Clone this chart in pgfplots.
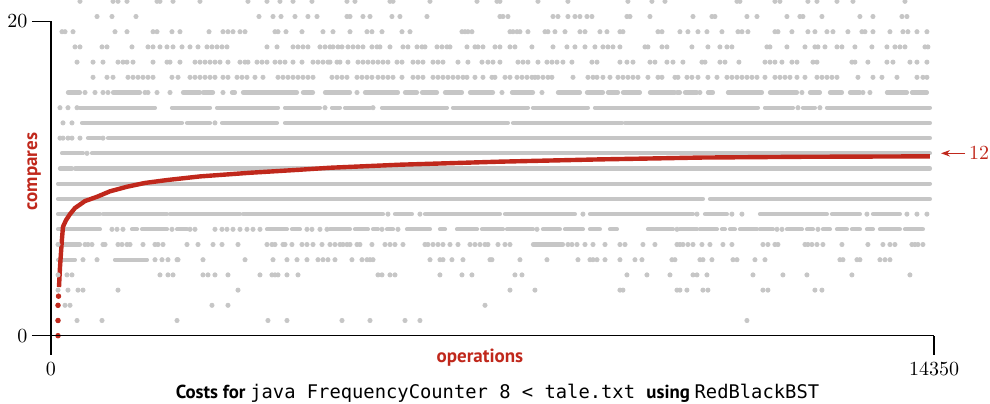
\documentclass[border=0pt]{standalone}
\usepackage{pgfplots}
\pgfplotsset{compat=1.18}
\usepackage{fontspec}
\setsansfont{PT Sans}
\setmonofont{DejaVu Sans Mono}
\usetikzlibrary{arrows.meta}
\definecolor{dotgray}{RGB}{198,198,198}
\definecolor{bookred}{RGB}{192,40,28}
\pgfplotsset{
  dots/.style={only marks, mark=*, mark size=1.05pt, color=dotgray, mark options={draw=none, fill=dotgray}},
  runs/.style={no marks, draw=dotgray, line width=2.1pt, line cap=round, unbounded coords=jump},
}
\begin{document}
\begin{tikzpicture}
\begin{axis}[
  scale only axis, width=441.5pt, height=167.85pt,
  xmin=0, xmax=14350, ymin=0, ymax=22.086,
  clip=false,
  axis x line*=bottom, axis y line*=left,
  axis line style={draw=none},
  xtick={0,14350}, xticklabels={0,14350},
  ytick={0,20.68}, yticklabels={0,20},
  tick align=outside, major tick length=9.5pt,
  tick style={black, line width=0.7pt},
  ticklabel style={font=\fontsize{10}{12}\selectfont},
  yticklabel style={xshift=1.2pt},
  scaled x ticks=false,
]
% ---- sparse rows (individual dots) ----
\addplot[dots] coordinates {(471,22)(1008,22)(1089,22)(1235,22)(1723,22)(1771,22)(1983,22)(2421,22)(3201,22)(3510,22)(3721,22)(3933,22)(4241,22)(4810,22)(4940,22)(5509,22)(5558,22)(6159,22)(6923,22)(7248,22)(7296,22)(7914,22)(8401,22)(9376,22)(9766,22)(9978,22)(11148,22)(11196,22)(11765,22)(11846,22)(12301,22)(12448,22)(12773,22)(13033,22)(13878,22)};
\addplot[dots] coordinates {(748,21)(991,21)(1381,21)(3380,21)(3608,21)(3738,21)(3965,21)(4176,21)(4323,21)(4810,21)(4859,21)(5070,21)(5184,21)(5541,21)(5671,21)(6110,21)(7296,21)(7345,21)(7426,21)(8158,21)(8239,21)(8401,21)(8515,21)(8596,21)(8710,21)(8791,21)(9360,21)(9409,21)(9734,21)(10433,21)(10741,21)(10790,21)(11310,21)(11473,21)(11960,21)(12171,21)(12220,21)(12529,21)(13146,21)(13358,21)(13829,21)(13910,21)};
\addplot[dots] coordinates {(179,20)(228,20)(358,20)(1040,20)(1235,20)(1658,20)(1723,20)(1966,20)(2096,20)(2568,20)(2795,20)(2876,20)(2958,20)(3071,20)(3153,20)(3640,20)(3689,20)(3819,20)(4079,20)(4420,20)(4583,20)(4859,20)(5135,20)(5216,20)(5379,20)(5704,20)(5834,20)(6679,20)(6728,20)(6776,20)(6841,20)(7459,20)(7508,20)(7573,20)(7621,20)(7751,20)(8028,20)(8076,20)(8190,20)(8353,20)(8596,20)(8678,20)(8921,20)(9035,20)(9246,20)(9295,20)(9864,20)(9929,20)(10221,20)(10351,20)(10514,20)(10660,20)(10904,20)(11164,20)(11229,20)(11326,20)(11765,20)(11814,20)(12041,20)(12301,20)(12415,20)(12610,20)(12708,20)(12951,20)(13179,20)(13228,20)(13358,20)(13634,20)(13845,20)(13926,20)(14073,20)(14235,20)};
\addplot[dots] coordinates {(390,19)(471,19)(829,19)(910,19)(1316,19)(1576,19)(1658,19)(1771,19)(1885,19)(1983,19)(2129,19)(2259,19)(2389,19)(2535,19)(2616,19)(2698,19)(2779,19)(2860,19)(3510,19)(3673,19)(3933,19)(4014,19)(4095,19)(4176,19)(4371,19)(4453,19)(4534,19)(4583,19)(4664,19)(4729,19)(4826,19)(4908,19)(4989,19)(5070,19)(5216,19)(5298,19)(5346,19)(5509,19)(5720,19)(5801,19)(5948,19)(6029,19)(6078,19)(6273,19)(6354,19)(6435,19)(6484,19)(6760,19)(6890,19)(6939,19)(7020,19)(7215,19)(7296,19)(7459,19)(7540,19)(7816,19)(8158,19)(8385,19)(8515,19)(8678,19)(8840,19)(8970,19)(9051,19)(9133,19)(9246,19)(9653,19)(9701,19)(9929,19)(10010,19)(10416,19)(10676,19)(10871,19)(10985,19)(11066,19)(11635,19)(11684,19)(11960,19)(12253,19)(12415,19)(12464,19)(12578,19)(12773,19)(12854,19)(13065,19)(13341,19)(13585,19)(13715,19)(13796,19)(13878,19)(14203,19)(14251,19)};
\addplot[dots] coordinates {(423,18)(683,18)(845,18)(1089,18)(1170,18)(1235,18)(1333,18)(1658,18)(1885,18)(1934,18)(2096,18)(2340,18)(2421,18)(2503,18)(2584,18)(2665,18)(2746,18)(2876,18)(3071,18)(3153,18)(3201,18)(3348,18)(3429,18)(3510,18)(3640,18)(3721,18)(3803,18)(3933,18)(4079,18)(4258,18)(4339,18)(4420,18)(4501,18)(4534,18)(4648,18)(4696,18)(4826,18)(4989,18)(5070,18)(5151,18)(5233,18)(5314,18)(5395,18)(5476,18)(5623,18)(5704,18)(5883,18)(5964,18)(6045,18)(6208,18)(6289,18)(6370,18)(6614,18)(6776,18)(7004,18)(7101,18)(7183,18)(7296,18)(7589,18)(7670,18)(7751,18)(7914,18)(8060,18)(8141,18)(8223,18)(8320,18)(8466,18)(8791,18)(8873,18)(9246,18)(9360,18)(9458,18)(9734,18)(9815,18)(10010,18)(10108,18)(10270,18)(10579,18)(10628,18)(10871,18)(10953,18)(11180,18)(11603,18)(11684,18)(11765,18)(11879,18)(12041,18)(12123,18)(12383,18)(12448,18)(13016,18)(13065,18)(13276,18)(13585,18)(13683,18)(13959,18)(14073,18)(14235,18)};
\addplot[dots] coordinates {(683,17)(910,17)(1008,17)(1251,17)(1333,17)(1414,17)(1495,17)(1576,17)(1658,17)(1966,17)(2064,17)(2259,17)(2340,17)(2421,17)(2503,17)(2584,17)(2665,17)(2795,17)(2876,17)(3023,17)(3104,17)(3185,17)(3315,17)(3445,17)(3689,17)(3770,17)(3851,17)(3933,17)(4014,17)(4095,17)(4176,17)(4258,17)(4566,17)(4648,17)(4729,17)(4810,17)(4973,17)(5054,17)(5135,17)(5216,17)(5314,17)(5395,17)(5476,17)(5558,17)(5704,17)(5883,17)(5964,17)(6045,17)(6208,17)(6289,17)(6370,17)(6451,17)(6533,17)(6614,17)(6695,17)(6760,17)(6890,17)(7020,17)(7166,17)(7215,17)(7378,17)(7459,17)(7573,17)(7654,17)(7735,17)(7816,17)(7865,17)(7914,17)(7995,17)(8076,17)(8141,17)(8483,17)(8726,17)(8808,17)(8873,17)(8970,17)(9084,17)(9214,17)(9295,17)(9376,17)(9458,17)(9539,17)(9701,17)(9864,17)(9929,17)(10140,17)(10189,17)(10335,17)(10416,17)(10514,17)(10676,17)(10823,17)(10985,17)(11066,17)(11148,17)(11229,17)(11310,17)(11391,17)(11473,17)(11603,17)(11765,17)(11846,17)(11928,17)(12009,17)(12123,17)(12253,17)(12448,17)(12529,17)(12610,17)(12691,17)(12773,17)(13114,17)(13358,17)(13504,17)(13748,17)(14073,17)(14170,17)(14235,17)};
% ---- medium / dense rows ----
\addplot[runs] coordinates {(276,16)(471,16)(0,nan)(1008,16)(1446,16)(0,nan)(2145,16)(2421,16)(0,nan)(2470,16)(2633,16)(0,nan)(2941,16)(2990,16)(0,nan)(3120,16)(3998,16)(0,nan)(4095,16)(4258,16)(0,nan)(4453,16)(4859,16)(0,nan)(5103,16)(5639,16)(0,nan)(5753,16)(5948,16)(0,nan)(6029,16)(6273,16)(0,nan)(6403,16)(6679,16)(0,nan)(6809,16)(7183,16)(0,nan)(7491,16)(7833,16)(0,nan)(8239,16)(8596,16)(0,nan)(8710,16)(8970,16)(0,nan)(9051,16)(9214,16)(0,nan)(9295,16)(9571,16)(0,nan)(9734,16)(10140,16)(0,nan)(10173,16)(10221,16)(0,nan)(10303,16)(10498,16)(0,nan)(10676,16)(10758,16)(0,nan)(11001,16)(11554,16)(0,nan)(11684,16)(12123,16)(0,nan)(12334,16)(12496,16)(0,nan)(12659,16)(12854,16)(0,nan)(12984,16)(13146,16)(0,nan)(13585,16)(13910,16)(0,nan)(13991,16)(14235,16)};
\addplot[dots] coordinates {(553,16)(715,16)(845,16)(926,16)(1528,16)(1576,16)(1723,16)(1934,16)(2795,16)(4973,16)(7329,16)(7979,16)(10546,16)(12204,16)(13195,16)(13309,16)};
\addplot[runs] coordinates {(471,15)(1690,15)(0,nan)(1966,15)(2584,15)(0,nan)(2698,15)(3689,15)(0,nan)(3803,15)(4371,15)(0,nan)(4566,15)(4696,15)(0,nan)(4778,15)(5184,15)(0,nan)(5379,15)(6435,15)(0,nan)(6533,15)(7751,15)(0,nan)(7833,15)(8726,15)(0,nan)(8840,15)(11489,15)(0,nan)(11603,15)(12058,15)(0,nan)(12220,15)(12415,15)(0,nan)(12610,15)(14284,15)};
\addplot[dots] coordinates {(146,15)(276,15)(423,15)(4453,15)(5233,15)(12139,15)(12496,15)};
\addplot[runs] coordinates {(504,14)(2129,14)(0,nan)(2210,14)(2584,14)(0,nan)(2779,14)(3673,14)(0,nan)(3803,14)(7426,14)(0,nan)(7508,14)(9279,14)(0,nan)(9328,14)(14284,14)};
\addplot[dots] coordinates {(195,14)(341,14)(2665,14)};
\addplot[runs] coordinates {(601,13)(796,13)(0,nan)(926,13)(14284,13)};
\addplot[dots] coordinates {(146,13)(195,13)(276,13)(341,13)(471,13)(845,13)};
\addplot[runs] coordinates {(179,12)(520,12)(0,nan)(666,12)(14284,12)};
\addplot[dots] coordinates {(585,12)};
\addplot[runs] coordinates {(146,11)(341,11)(0,nan)(390,11)(14284,11)};
\addplot[runs] coordinates {(114,10)(14284,10)};
\addplot[runs] coordinates {(114,9)(585,9)(0,nan)(683,9)(10595,9)(0,nan)(10709,9)(14284,9)};
\addplot[runs] coordinates {(114,8)(796,8)(0,nan)(845,8)(1885,8)(0,nan)(1934,8)(3071,8)(0,nan)(3120,8)(5395,8)(0,nan)(5590,8)(5866,8)(0,nan)(6078,8)(7296,8)(0,nan)(7378,8)(8515,8)(0,nan)(8759,8)(10433,8)(0,nan)(10628,8)(10985,8)(0,nan)(11521,8)(12610,8)(0,nan)(12691,8)(13146,8)(0,nan)(13358,8)(13796,8)};
\addplot[dots] coordinates {(5476,8)(5996,8)(8645,8)(10498,8)(11066,8)(11229,8)(13260,8)(13910,8)(14073,8)(14235,8)};
\addplot[runs] coordinates {(114,7)(796,7)(0,nan)(1316,7)(1398,7)(0,nan)(1479,7)(1885,7)(0,nan)(2048,7)(2210,7)(0,nan)(3510,7)(3835,7)(0,nan)(3916,7)(4046,7)(0,nan)(4534,7)(4859,7)(0,nan)(4940,7)(5151,7)(0,nan)(5233,7)(5314,7)(0,nan)(5460,7)(5558,7)(0,nan)(5785,7)(6159,7)(0,nan)(6321,7)(6403,7)(0,nan)(6598,7)(6923,7)(0,nan)(7004,7)(7345,7)(0,nan)(7410,7)(7833,7)(0,nan)(7995,7)(8271,7)(0,nan)(8353,7)(8645,7)(0,nan)(8759,7)(8921,7)(0,nan)(9084,7)(9198,7)(0,nan)(9701,7)(10108,7)(0,nan)(10221,7)(10498,7)(0,nan)(10546,7)(10823,7)(0,nan)(10904,7)(10953,7)(0,nan)(11034,7)(11115,7)(0,nan)(11196,7)(11473,7)(0,nan)(11521,7)(11733,7)(0,nan)(11960,7)(12204,7)(0,nan)(12285,7)(12383,7)(0,nan)(12545,7)(12659,7)(0,nan)(12773,7)(12935,7)(0,nan)(13016,7)(13146,7)(0,nan)(13260,7)(13358,7)(0,nan)(13471,7)(13796,7)(0,nan)(13878,7)(14170,7)};
\addplot[dots] coordinates {(991,7)(1073,7)(1170,7)(1966,7)(2259,7)(2340,7)(2665,7)(2779,7)(2860,7)(2958,7)(3071,7)(3185,7)(3283,7)(3396,7)(4160,7)(4241,7)(4371,7)(4485,7)(5379,7)(5639,7)(7898,7)(10173,7)(11798,7)(11879,7)(12464,7)};
\addplot[runs] coordinates {(179,6)(471,6)(0,nan)(7833,6)(8320,6)};
\addplot[dots] coordinates {(114,6)(553,6)(601,6)(666,6)(845,6)(878,6)(1089,6)(1154,6)(1235,6)(1284,6)(1495,6)(1690,6)(1739,6)(1820,6)(2210,6)(2389,6)(2633,6)(2779,6)(3039,6)(3510,6)(3591,6)(3640,6)(3770,6)(3803,6)(3916,6)(4079,6)(4160,6)(4258,6)(4404,6)(4534,6)(4615,6)(4696,6)(4745,6)(4810,6)(4859,6)(4973,6)(5021,6)(5216,6)(5428,6)(5509,6)(5590,6)(5720,6)(6078,6)(6126,6)(6208,6)(6289,6)(6370,6)(6484,6)(6614,6)(6809,6)(6890,6)(6971,6)(7053,6)(7101,6)(7264,6)(7378,6)(7459,6)(8401,6)(8466,6)(8548,6)(8678,6)(8808,6)(9003,6)(9246,6)(9328,6)(9620,6)(9815,6)(10173,6)(10221,6)(10270,6)(10351,6)(10433,6)(10579,6)(10709,6)(10920,6)(11066,6)(11570,6)(11651,6)(11765,6)(11814,6)(12253,6)(12301,6)(12366,6)(12448,6)(12545,6)(12854,6)(13276,6)(13520,6)(13634,6)(13715,6)(13991,6)(14040,6)(14089,6)(14170,6)};
\addplot[runs] coordinates {(114,5)(390,5)(0,nan)(1040,5)(1560,5)};
\addplot[dots] coordinates {(520,5)(748,5)(1690,5)(1804,5)(1901,5)(2048,5)(2064,5)(2470,5)(3153,5)(3608,5)(3835,5)(3998,5)(4160,5)(4339,5)(4420,5)(4501,5)(4615,5)(4891,5)(5054,5)(5135,5)(5184,5)(5233,5)(6159,5)(6321,5)(6370,5)(6516,5)(6695,5)(7134,5)(7166,5)(7621,5)(8060,5)(8564,5)(8759,5)(8808,5)(8873,5)(9003,5)(9246,5)(9490,5)(9604,5)(10091,5)(10140,5)(10546,5)(10595,5)(10741,5)(11083,5)(11148,5)(11440,5)(11603,5)(12821,5)(12870,5)(13098,5)(13146,5)(13471,5)(13553,5)(13634,5)};
\addplot[dots] coordinates {(114,4)(260,4)(341,4)(1771,4)(1901,4)(1983,4)(2470,4)(2551,4)(2665,4)(2876,4)(3396,4)(3591,4)(3640,4)(3689,4)(3835,4)(4014,4)(5314,4)(5379,4)(5509,4)(5590,4)(6321,4)(6679,4)(6841,4)(7540,4)(7654,4)(9360,4)(9685,4)(10059,4)(10433,4)(10498,4)(10660,4)(11408,4)(11895,4)(12285,4)(13016,4)(13959,4)};
\addplot[dots] coordinates {(114,3)(276,3)(439,3)(520,3)(1089,3)(3039,3)(7459,3)(7865,3)(9246,3)(9295,3)(10173,3)(10221,3)(10335,3)(10595,3)(10676,3)(11570,3)(11651,3)(12415,3)(12529,3)};
\addplot[dots] coordinates {(114,2)(228,2)(309,2)(2616,2)(2876,2)(7053,2)};
\addplot[dots] coordinates {(114,1)(423,1)(829,1)(2048,1)(3526,1)(3835,1)(4729,1)(5184,1)(5753,1)(5996,1)(11310,1)};
% ---- running average (red) ----
\addplot[only marks, mark=*, mark size=1.15pt, color=bookred, mark options={draw=none, fill=bookred}] coordinates {(114,0)(114,1)(114,2)(122,2.6)};
\addplot[no marks, color=bookred, line width=2.2pt, line join=round] coordinates {(130,3.2)(146,4.5)(163,5.5)(179,6.4)(195,7.17)(244,7.6)(309,8.0)(390,8.4)(553,8.86)(748,9.14)(959,9.5)(1235,9.8)(1528,10.05)(1885,10.24)(2421,10.48)(3234,10.72)(4046,10.92)(4534,11.05)(5671,11.25)(7296,11.45)(8921,11.6)(9896,11.67)(10546,11.72)(12171,11.77)(14284,11.8)};
\coordinate (O) at (axis cs:0,0);
\coordinate (Ytop) at (axis cs:0,20.68);
\coordinate (Xend) at (axis cs:14350,0);
\coordinate (Arr) at (axis cs:14350,12);
\coordinate (YL) at (axis cs:0,10.8);
\coordinate (XL) at (axis cs:6971,0);
\coordinate (CAP) at (axis cs:7256,0);
\end{axis}
\draw[line width=0.7pt, black] (Ytop) -- (O) -- (Xend);
\draw[bookred, line width=0.5pt, -{Stealth[length=4.5pt,width=3.2pt]}] ([xshift=15.5pt]Arr) -- ([xshift=3.5pt]Arr);
\node[anchor=west, inner sep=0pt, text=bookred, font=\fontsize{10}{12}\selectfont] at ([xshift=17.3pt]Arr) {12};
\node[rotate=90, anchor=base, inner sep=0pt, text=bookred, font=\sffamily\bfseries\fontsize{9.5}{11}\selectfont] at ([xshift=-7pt]YL) {compares};
\node[anchor=base, inner sep=0pt, text=bookred, font=\sffamily\bfseries\fontsize{9.5}{11}\selectfont] at ([yshift=-13.5pt]XL) {operations};
\node[anchor=base, inner sep=0pt, font=\fontsize{9.4}{11}\selectfont] at ([yshift=-31.4pt]CAP) {\sffamily\bfseries Costs for\ \ttfamily\mdseries java FrequencyCounter 8 < tale.txt\ \sffamily\bfseries using\ \ttfamily\mdseries RedBlackBST};
\pgfresetboundingbox
\path[use as bounding box] ([shift={(-25.5pt,-33.65pt)}]O) rectangle ++(495pt,201.5pt);
\end{tikzpicture}
\end{document}
